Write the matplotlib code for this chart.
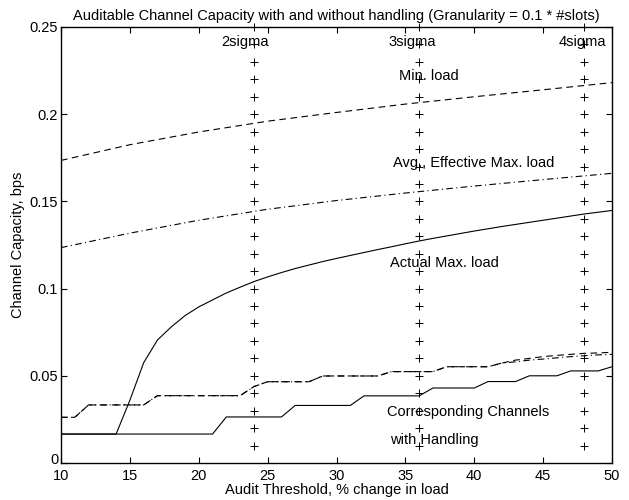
import numpy as np
import matplotlib
matplotlib.use("Agg")
import matplotlib.pyplot as plt
import matplotlib.transforms as mtransforms

plt.rcParams['font.family'] = ['Liberation Sans', 'DejaVu Sans']
plt.rcParams['font.size'] = 10.5

# main curves (no handling)
x_smooth = [10, 15, 20, 25, 30, 35, 40, 45, 50]
min_load = [0.1735, 0.1825, 0.1898, 0.1960, 0.2010, 0.2058, 0.2100, 0.2140, 0.2181]
avg_load = [0.1235, 0.1318, 0.1392, 0.1455, 0.1505, 0.1548, 0.1588, 0.1625, 0.1661]

x_int = list(range(10, 51))
actual_max = [0.0166, 0.0166, 0.0166, 0.0166, 0.0166, 0.036, 0.0575, 0.0705, 0.078, 0.0845,
              0.0895, 0.0935, 0.0975, 0.1008, 0.104, 0.1067, 0.1092, 0.1115, 0.1135, 0.1155,
              0.1173, 0.119, 0.1207, 0.1224, 0.124, 0.1257, 0.1273, 0.1288, 0.1302, 0.1316,
              0.133, 0.1343, 0.1356, 0.1368, 0.138, 0.1392, 0.1404, 0.1416, 0.1428, 0.1438,
              0.1448]

# corresponding channels with handling
actual_h = [0.0166] * 12 + [0.0264] * 5 + [0.033] * 5 + [0.0385] * 5 + [0.043] * 4 \
    + [0.0467] * 3 + [0.050] * 3 + [0.0528] * 3 + [0.0552]
avg_h = [0.0262] * 2 + [0.0333] * 5 + [0.0386] * 7 + [0.0438] + [0.0466] * 4 \
    + [0.0499] * 5 + [0.0524] * 4 + [0.0552] * 4 \
    + [0.0573, 0.058, 0.059, 0.0596, 0.0603, 0.061, 0.0615, 0.062, 0.0623]
min_h = [0.0262] * 2 + [0.0333] * 5 + [0.0386] * 7 + [0.0438] + [0.0466] * 4 \
    + [0.0499] * 5 + [0.0524] * 4 + [0.0552] * 4 \
    + [0.0573, 0.059, 0.060, 0.061, 0.0617, 0.0623, 0.0629, 0.0631, 0.0635]

# sigma marker columns
sigma_x = [24, 36, 48]
sigma_y = [0.01, 0.02, 0.03, 0.04, 0.05, 0.06, 0.07, 0.08, 0.09, 0.10, 0.11, 0.12, 0.13,
           0.14, 0.15, 0.16, 0.17, 0.18, 0.19, 0.20, 0.21, 0.22, 0.23, 0.24, 0.25]

fig = plt.figure(figsize=(6.29, 5.0), dpi=100)
ax = fig.add_axes([0.097, 0.074, 0.876, 0.872])

lw = 0.8
ax.plot(x_smooth, min_load, color='black', lw=lw, linestyle=(0, (6, 4)))
ax.plot(x_smooth, avg_load, color='black', lw=lw, linestyle=(0, (6, 3, 1, 3)))
ax.plot(x_int, actual_max, color='black', lw=lw)
ax.plot(x_int, min_h, color='black', lw=lw, linestyle=(0, (6, 4)))
ax.plot(x_int, avg_h, color='black', lw=lw, linestyle=(0, (6, 3, 1, 3)))
ax.plot(x_int, actual_h, color='black', lw=lw)

for sx in sigma_x:
    ax.plot([sx] * len(sigma_y), sigma_y, linestyle='none', marker='+',
            color='black', markersize=6, markeredgewidth=0.7, clip_on=False)

ax.text(21.6, 0.2415, '2sigma', va='center', ha='left')
ax.text(33.8, 0.2415, '3sigma', va='center', ha='left')
ax.text(46.1, 0.2415, '4sigma', va='center', ha='left')
ax.text(34.5, 0.2219, 'Min. load', va='center', ha='left')
ax.text(34.1, 0.1718, 'Avg., Effective Max. load', va='center', ha='left')
ax.text(33.9, 0.1149, 'Actual Max. load', va='center', ha='left')
ax.text(33.7, 0.0291, 'Corresponding Channels', va='center', ha='left')
ax.text(33.9, 0.0132, 'with Handling', va='center', ha='left')

ax.set_xlim(10, 50)
ax.set_ylim(0, 0.25)
ax.set_xticks([10, 15, 20, 25, 30, 35, 40, 45, 50])
ax.set_yticks([0, 0.05, 0.1, 0.15, 0.2, 0.25])
ax.set_yticklabels(['0', '0.05', '0.1', '0.15', '0.2', '0.25'])
ax.tick_params(direction='in', top=True, right=True, length=4, width=0.8, pad=2)
ax.tick_params(axis='x', pad=4)
for s in ax.spines.values():
    s.set_linewidth(1.0)

# lift the "0" label a little so it sits just above "10"
zero_lbl = ax.get_yticklabels()[0]
zero_lbl.set_transform(zero_lbl.get_transform() +
                       mtransforms.ScaledTranslation(0, 3 / 72, fig.dpi_scale_trans))

ax.set_title('Auditable Channel Capacity with and without handling (Granularity = 0.1 * #slots)',
             fontsize=10.5, pad=5)
ax.set_xlabel('Audit Threshold, % change in load', labelpad=0)
ax.set_ylabel('Channel Capacity, bps', labelpad=3)

fig.savefig('out.png', dpi=100)
